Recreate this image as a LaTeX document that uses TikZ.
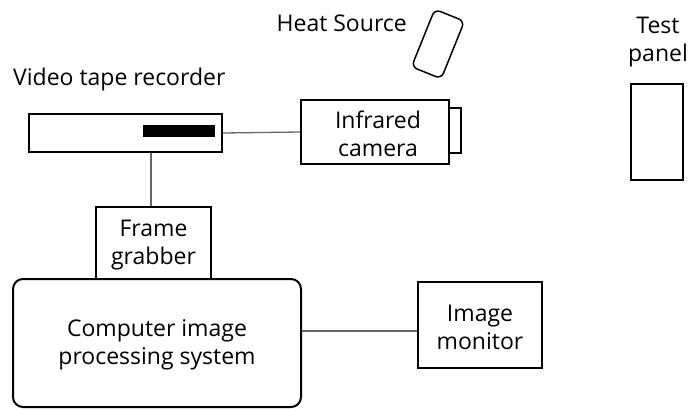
\documentclass[tikz,border=0pt]{standalone}
\usepackage{fontspec}
\setmainfont{Open Sans}
\begin{document}
\begin{tikzpicture}[x=1pt,y=-1pt,
  box/.style={draw=black,line width=2pt,inner sep=0pt},
  conn/.style={draw=black!60,line width=1.3pt},
  lbl/.style={font=\fontsize{23}{28}\selectfont,align=center,inner sep=0pt}]
\useasboundingbox (0,0) rectangle (688,408);
% Video tape recorder
\node[box,minimum width=193pt,minimum height=38pt] (vtr) at (125.5,133) {};
\fill (143,125) rectangle (215,137);
\node[lbl,anchor=west] (vtrl) at (13,80) {Video tape recorder};
% camera
\node[box,minimum width=148pt,minimum height=64pt] (cam) at (375,132) {};
\node[lbl] (caml) at (378,134) {Infrared\\camera};
\draw[line width=1.3pt] (cam.north east |- 0,108) -- (461,108) -- (461,153) -- (cam.north east |- 0,153);
% heat source
\node[draw,line width=1.5pt,rounded corners=6pt,minimum width=32pt,minimum height=62pt,rotate=-22] (heat) at (438,44) {};
\node[lbl,anchor=east] (heatl) at (407,23) {Heat Source};
% test panel
\node[lbl] (testl) at (658,42) {Test\\panel};
\node[box,minimum width=52pt,minimum height=96pt] (panel) at (657,132) {};
% frame grabber
\node[draw=black,line width=1.3pt,minimum width=115pt,minimum height=72pt,inner sep=0pt] (fg) at (153.5,243) {};
\node[lbl] (fgl) at (153.5,245) {Frame\\grabber};
% computer
\node[draw=black,line width=2pt,rounded corners=10pt,minimum width=288pt,minimum height=128pt,inner sep=0pt] (comp) at (157,343) {};
\node[lbl] (compl) at (157,345) {Computer image\\processing system};
% monitor
\node[box,minimum width=124pt,minimum height=86pt] (mon) at (480,325) {};
\node[lbl] (monl) at (480,327) {Image\\monitor};
% connectors
\draw[conn] ([xshift=-2.5pt]vtr.south -| fg.north) -- ([xshift=-2.5pt]fg.north);
\draw[conn] (vtr.east) -- (cam.west);
\draw[conn] (comp.east |- 0,331) -- (mon.west |- 0,331);
\end{tikzpicture}
\end{document}
